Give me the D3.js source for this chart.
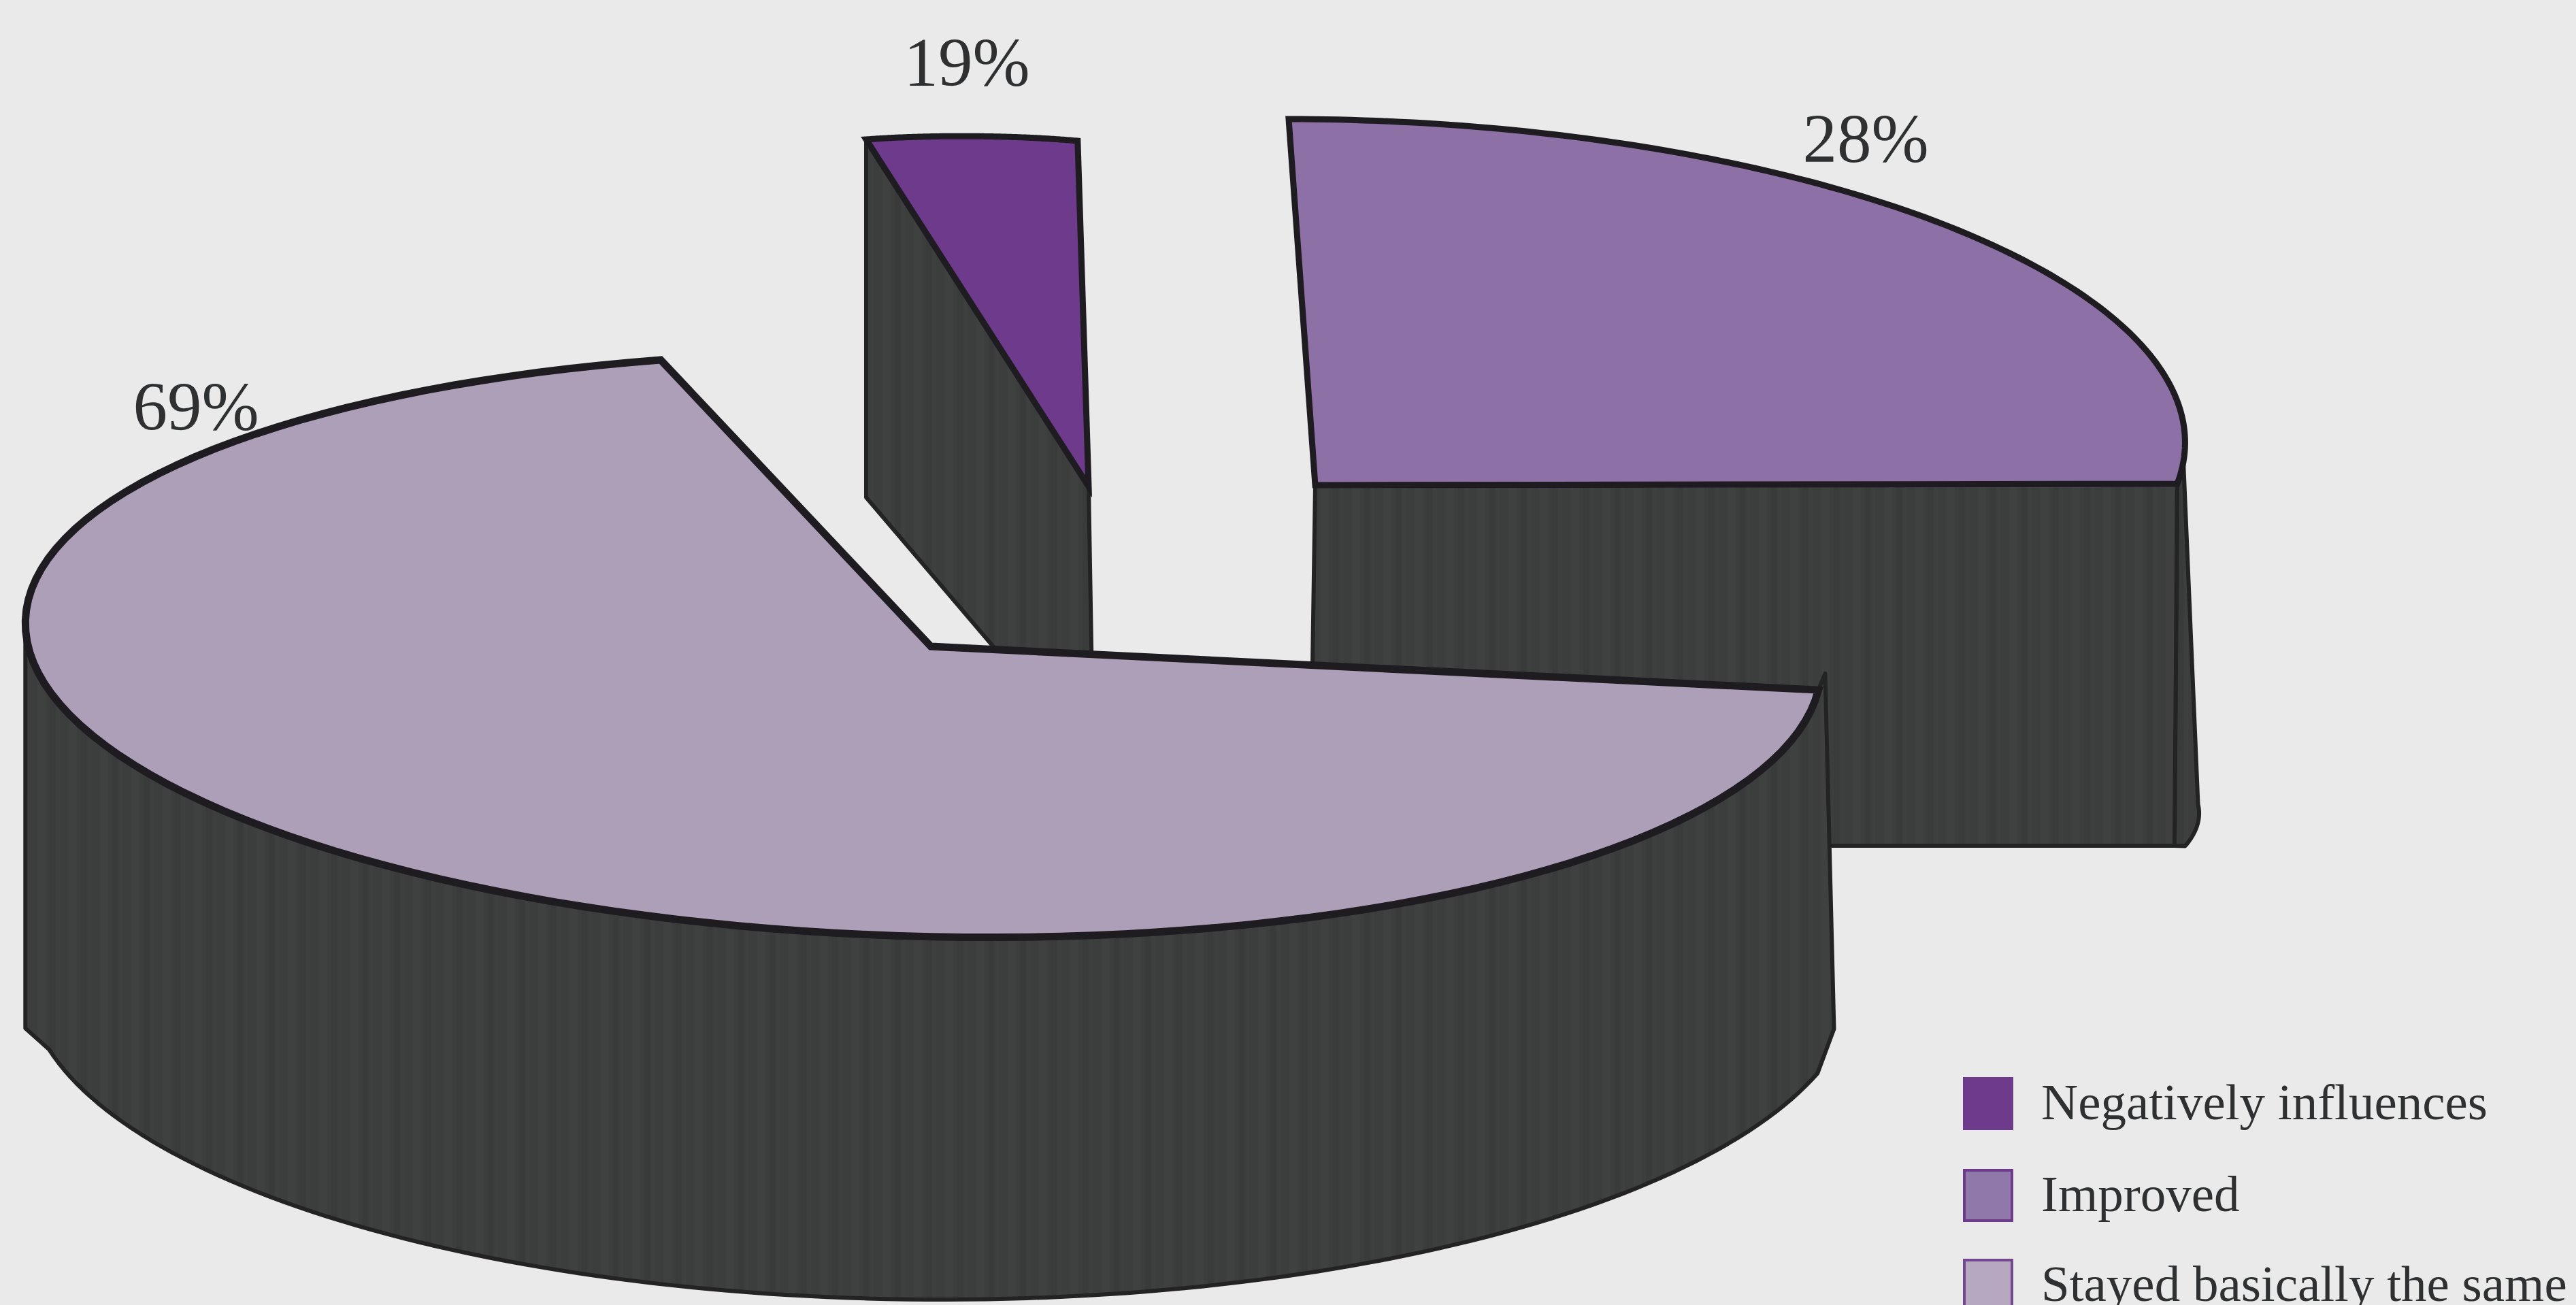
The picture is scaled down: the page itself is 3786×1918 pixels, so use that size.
<!DOCTYPE html>
<html>
<head>
<meta charset="utf-8">
<script src="https://cdn.jsdelivr.net/npm/d3@7/dist/d3.min.js"></script>
<style>
  html, body { margin: 0; padding: 0; background: #e9eae9; }
  svg { display: block; }
  text { font-family: "Liberation Serif", serif; fill: #2f3031; }
</style>
</head>
<body>
<svg id="chart" width="3786" height="1918"></svg>
<script>
// Survey answers, in percent, as printed beside each wedge
const categories = ["Negatively influences", "Improved", "Stayed basically the same"];
const percents = [19, 28, 69];

// Face colours, indexed like the categories
const faceColours = ["#6e3a8c", "#8d70a6", "#ae9fb9"];
const swatchColours = ["#6e3a8c", "#9079aa", "#b6a8c1"];
const swatchEdges = ["#6e3a8c", "#6e3a8c", "#73488f"];

// Each wedge sits in its own skewed frame: the rim is
// centre + cos(a) * u + sin(a) * v, for a from 0 to the wedge's sweep.
const topFrames = [
  { c: [1428, 234], u: [-155, -29], v: [229, -17.5] },
  { c: [1960, 625], u: [-66, -450], v: [1249.7, 1.7] },
  { c: [1357, 948], u: [-386, -419], v: [-1262, 94.8] }
];
const hubs = [[1600, 715], [1933, 713], [1368, 950]];

// Lower rims of the two wedges whose curved wall shows
const improvedBase = { c: [1964, 1193], u: [-11, -269], v: [1268, 0] };
const stayedBase = { c: [1385, 1440], u: [-201, -464.7], v: [-1330, 70.3] };

const labelPositions = [[1421, 126], [2742, 238], [288, 632]];
const legendLayout = { x: 2885, textX: 3000, width: 74, height: 78, rows: [1583, 1718, 1850], fontSize: 75 };

const angleOf = d3.scaleLinear().domain([0, 100]).range([0, 2 * Math.PI]);
const rimPoint = (f, a) => [
  f.c[0] + Math.cos(a) * f.u[0] + Math.sin(a) * f.v[0],
  f.c[1] + Math.cos(a) * f.u[1] + Math.sin(a) * f.v[1]
];
const sampleRim = (f, from, to) =>
  d3.range(0, 121).map(i => rimPoint(f, from + (to - from) * i / 120));
const deg = d => d * Math.PI / 180;
const line = d3.line();
const closed = pts => line(pts) + "Z";

const svg = d3.select("#chart");
svg.append("rect").attr("width", 3786).attr("height", 1918).attr("fill", "#e9eae9");

// Faint vertical banding on the dark walls
const pattern = svg.append("defs").append("pattern")
  .attr("id", "wall").attr("patternUnits", "userSpaceOnUse")
  .attr("width", 46).attr("height", 46);
[["#3b3e3d", 0, 46], ["#3f4140", 9, 12], ["#383b3a", 27, 8], ["#3e403f", 37, 5]].forEach(([col, x, w]) =>
  pattern.append("rect").attr("x", x).attr("width", w).attr("height", 46).attr("fill", col));

const edge = "#1e1c20";
const drawWall = d => svg.append("path").attr("d", closed(d))
  .attr("fill", "url(#wall)").attr("stroke", "#232324").attr("stroke-width", 6).attr("stroke-linejoin", "round");
const drawTop = (i, width) => {
  const rim = sampleRim(topFrames[i], 0, angleOf(percents[i]));
  svg.append("path").attr("d", closed([hubs[i], ...rim]))
    .attr("fill", faceColours[i]).attr("stroke", edge)
    .attr("stroke-width", width).attr("stroke-linejoin", "miter").attr("stroke-miterlimit", 6);
};
const sweeps = percents.map(angleOf);

// Small wedge: cut face hangs from the left edge down to the hub
const negStart = rimPoint(topFrames[0], 0);
const negEnd = rimPoint(topFrames[0], sweeps[0]);
const negHub = hubs[0];
drawWall([negStart, [negStart[0], negStart[1] + 526], [negHub[0] + 7, negHub[1] + 408], negHub, negEnd]);
drawTop(0, 9);

// Middle wedge: curved wall on the far right, then the flat cut face
const impHub = hubs[1];
const impEnd = rimPoint(topFrames[1], sweeps[1]);
const impFloor = impHub[1] + 530;
drawWall([
  ...sampleRim(topFrames[1], deg(87.7), sweeps[1]),
  [impEnd[0] - 4, impFloor],
  ...sampleRim(improvedBase, sweeps[1], deg(87.7))
]);
drawWall([impHub, impEnd, [impEnd[0] - 4, impFloor], [impHub[0] - 8, impFloor]]);
drawTop(1, 9);

// Large wedge: wall along the front of the rim, in front of the others
const stayEnd = rimPoint(topFrames[2], sweeps[2]);
const stayLeft = rimPoint(topFrames[2], deg(73));
drawWall([
  ...sampleRim(topFrames[2], deg(73), sweeps[2]),
  [stayEnd[0] + 10, stayEnd[1] - 24],
  [stayEnd[0] + 23, stayEnd[1] + 498],
  ...sampleRim(stayedBase, sweeps[2] - deg(4), deg(94)),
  [stayLeft[0], stayLeft[1] + 595]
]);
drawTop(2, 11);

// Value labels
svg.append("g").selectAll("text").data(percents).join("text")
  .attr("x", (d, i) => labelPositions[i][0])
  .attr("y", (d, i) => labelPositions[i][1])
  .attr("text-anchor", "middle").attr("font-size", 101)
  .text(d => d + "%");

// Legend
const rows = svg.append("g").selectAll("g").data(categories).join("g");
rows.append("rect")
  .attr("x", legendLayout.x + 2).attr("y", (d, i) => legendLayout.rows[i] + 2)
  .attr("width", legendLayout.width - 4).attr("height", legendLayout.height - 4)
  .attr("fill", (d, i) => swatchColours[i]).attr("stroke", (d, i) => swatchEdges[i]).attr("stroke-width", 4);
rows.append("text")
  .attr("x", legendLayout.textX).attr("y", (d, i) => legendLayout.rows[i] + 62)
  .attr("font-size", legendLayout.fontSize)
  .text(d => d);
</script>
</body>
</html>
